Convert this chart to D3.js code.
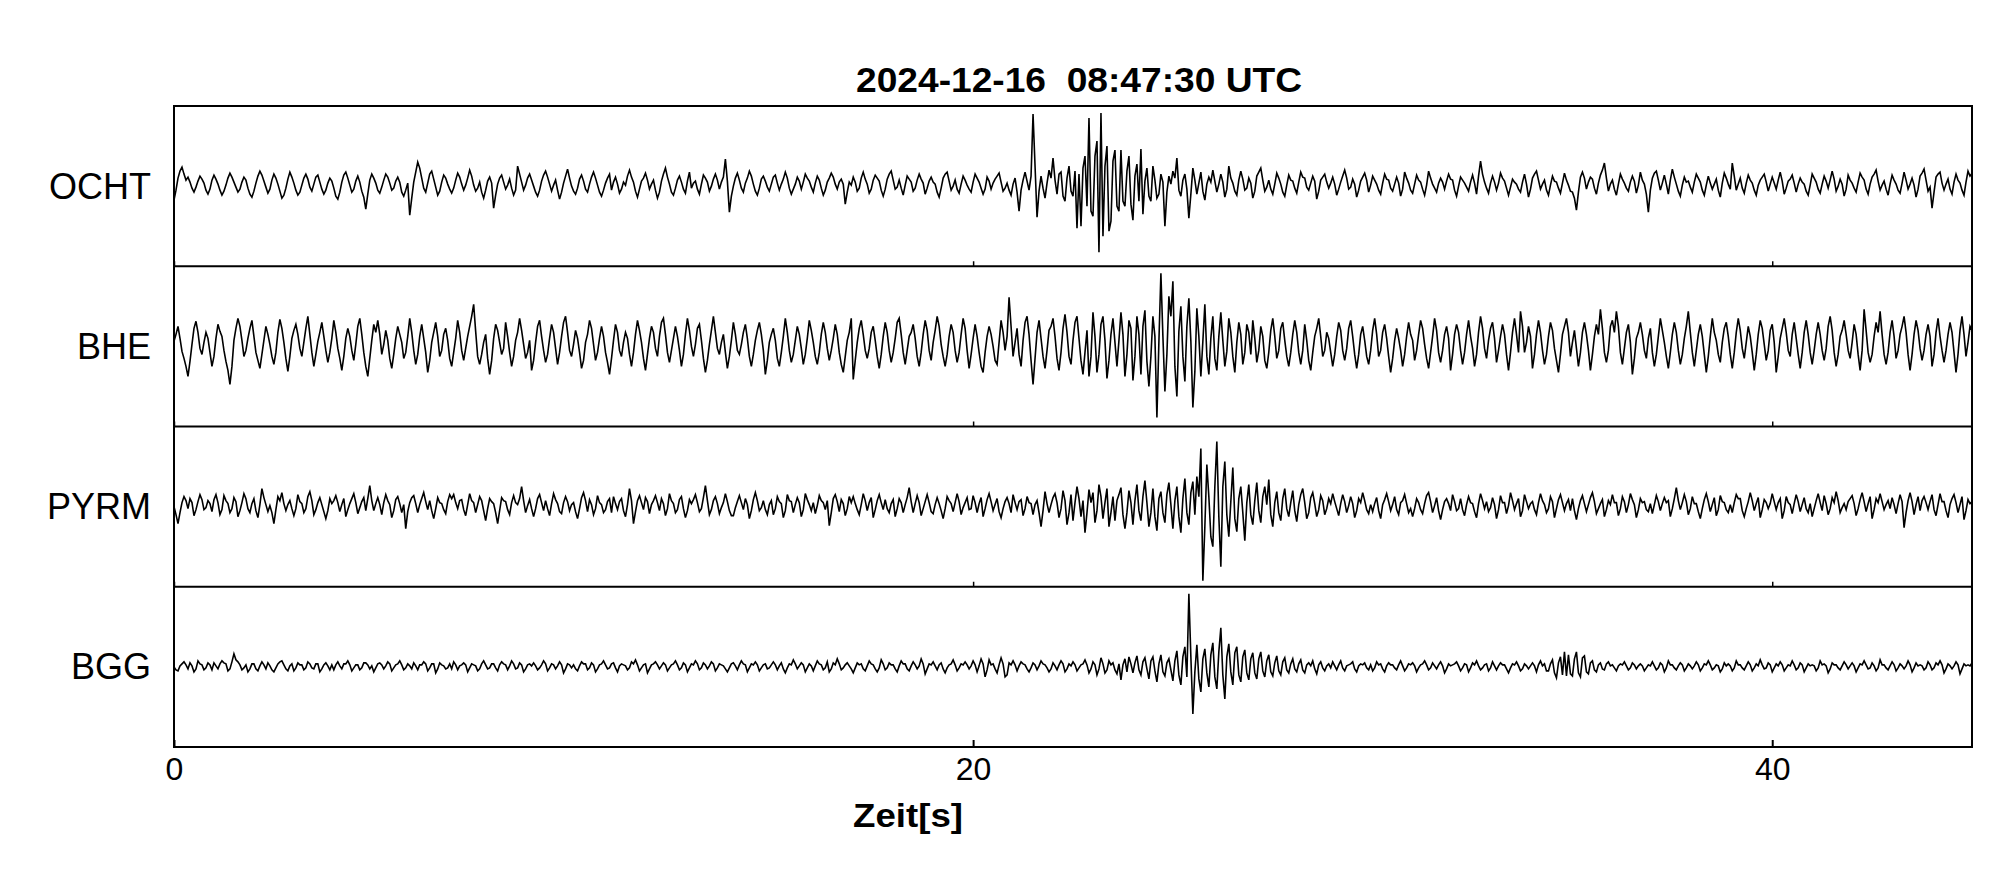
<!DOCTYPE html>
<html><head><meta charset="utf-8">
<script src="https://cdn.jsdelivr.net/npm/d3@7"></script>
<style>body{margin:0;background:#fff}svg{display:block}text{font-family:"Liberation Sans",Arial,sans-serif;fill:#000}</style>
</head><body>
<svg id="c" width="2005" height="880"></svg>
<script>
const title = "2024-12-16  08:47:30 UTC";
const xLabel = "Zeit[s]";
const stations = ["OCHT", "BHE", "PYRM", "BGG"];
const xTicks = [0, 20, 40];
const sampleInterval = 0.05; // seconds (20 samples per second)
const timeSpan = [0, 45];

const ocht = [
-14,-4,8,15,19,12,6,9,4,-2,-6,-1,5,10,7,3,-4,-8,-3,6,
11,7,2,-4,-9,-5,1,8,13,9,4,-1,-6,-3,4,9,6,-2,-8,-11,
-5,3,10,15,11,5,-1,-7,-3,6,12,8,2,-5,-12,-9,-2,7,14,9,
3,-4,-9,-6,1,8,12,7,-1,-5,2,9,11,4,-3,-8,-4,3,8,5,
-2,-10,-13,-6,4,11,14,8,1,-6,-3,5,10,4,-5,-11,-23,-8,6,12,
8,3,-4,-7,-1,6,12,9,3,-4,-2,5,9,4,-6,-10,-4,3,-29,-12,
4,14,24,18,8,-2,-6,3,12,15,7,-1,-9,-5,4,11,8,2,-3,-7,
-2,6,13,9,2,-4,1,8,16,10,1,-5,-2,4,-6,-12,-4,5,9,3,
-22,-9,2,8,11,4,-3,1,7,-2,-9,-4,20,12,4,-4,1,8,12,6,
0,-6,-10,-4,5,11,15,9,2,-5,1,6,-4,-13,-6,3,10,17,8,0,
-5,-8,-2,7,11,5,-3,-6,2,9,14,8,1,-6,-10,-4,3,8,12,-4,
4,9,2,-7,-3,4,1,10,16,9,4,-5,-11,-3,5,8,13,6,-3,2,
6,-4,-12,-6,5,12,18,9,2,-6,-9,-2,6,10,4,-3,-7,5,14,-2,
3,5,-3,-8,2,11,8,4,-5,0,7,12,6,-3,4,9,27,5,-26,-10,
0,8,13,6,-2,-6,3,8,15,10,2,-5,-9,-2,7,10,5,-1,-5,2,
9,11,3,-4,2,7,14,8,-2,-8,-3,2,9,5,-3,4,12,8,5,-1,
-6,3,10,6,-2,-9,-4,4,8,13,9,2,-3,4,7,2,-18,-6,4,1,
9,4,-5,-2,8,14,7,2,-7,-3,6,11,8,5,-4,-10,-3,7,12,15,
6,-3,-1,6,-2,-9,1,10,7,4,-5,-2,6,12,7,3,-8,-2,5,9,
4,2,-6,-11,-2,8,12,14,5,-4,0,6,-3,-7,2,10,6,1,-3,-6,
4,12,8,4,-2,-8,-3,9,5,-3,3,7,10,13,4,-5,-2,3,-4,-9,
2,8,-6,-25,-4,6,14,5,-4,10,72,20,-31,-5,10,-2,-12,3,16,8,
28,6,-8,12,14,-10,-15,8,20,-5,-10,15,-42,12,-40,18,30,-20,68,-25,
-30,30,45,-66,73,-50,20,40,-45,-35,25,36,-20,-25,36,-15,-20,15,30,-18,
-34,10,22,-15,37,-28,5,18,-10,-15,20,6,-12,-8,12,4,-40,-6,10,2,
15,8,28,-4,-10,6,12,-3,-32,-8,18,6,-8,3,14,-5,-14,2,9,4,
16,5,-6,2,12,4,-11,-3,20,8,3,-5,-9,6,15,7,-4,-2,8,3,
-12,-5,10,14,18,6,-5,-1,6,-3,-8,2,13,8,2,-6,-10,1,11,6,
5,-2,-7,4,14,9,8,-1,-4,3,10,5,-13,-5,6,9,12,4,-2,3,
9,2,-9,-3,4,10,16,8,-3,-1,7,2,-11,-4,5,9,13,6,-6,1,
10,6,2,-4,-8,3,12,7,6,-2,-5,2,9,3,-10,-3,14,8,3,-4,
-7,2,11,6,4,-3,-9,1,15,8,2,-2,-6,3,8,4,-3,5,12,7,
6,-4,-10,0,9,6,3,-1,-5,4,11,3,-8,10,25,12,4,-2,-7,3,
10,4,-4,3,13,8,5,-2,-9,-1,7,4,2,-3,-6,4,12,2,-11,-3,
8,12,15,6,-3,2,6,-4,-9,1,10,5,4,-2,-7,3,13,6,1,-5,
-6,-12,-24,-6,9,14,8,-3,4,9,7,-2,-8,3,11,16,23,8,-5,2,
6,-3,-9,2,12,7,3,-2,-5,4,10,5,-7,1,14,6,2,-8,-26,-4,
8,13,15,6,-4,3,11,2,-8,6,17,9,2,-5,-10,1,9,4,5,-1,
-6,4,12,8,4,-4,-9,1,10,3,-3,2,7,-4,-11,3,13,8,2,-3,
23,10,-4,2,8,-2,-7,3,11,6,3,-4,-9,1,6,9,12,4,-5,2,
9,3,-3,6,14,5,-8,-2,5,7,11,3,-6,2,8,4,2,-5,-9,1,
12,8,4,-3,-7,2,10,5,-2,6,15,7,-5,0,7,2,-10,-3,11,6,
3,-2,-6,4,13,9,6,-3,-8,2,9,12,16,5,-4,1,5,-3,-9,2,
11,6,2,-4,-7,3,14,6,-3,2,8,1,-11,-3,10,13,17,6,-5,-1,
-22,-6,9,12,14,3,-4,2,7,-3,-8,4,12,6,3,-4,-9,4,15,10,
13];

const bhe = [
5,12,20,8,-5,-12,-20,-30,-15,2,18,25,14,-2,-8,4,14,8,-6,-20,
-10,8,22,15,10,-4,-15,-24,-38,-20,6,18,28,20,6,-10,-4,8,18,26,
10,-6,-14,-22,-8,6,20,12,2,-10,-18,-6,14,27,18,4,-12,-25,-10,8,
16,22,12,-2,-10,4,18,30,12,-6,-20,-8,5,14,24,10,-4,-16,-6,8,
26,14,-2,-12,-24,-10,8,18,10,-4,-14,2,20,28,12,-6,-20,-30,-12,6,
22,14,26,12,-8,2,16,6,-12,-22,-8,8,20,12,4,-12,-6,10,28,14,
-4,-18,-8,10,22,8,-6,-26,-14,4,14,24,10,-10,-4,12,18,6,-12,-20,
-6,8,26,14,-4,-14,-2,10,20,30,42,15,-10,-18,-8,4,12,-12,-28,-14,
8,22,16,4,-8,-2,24,10,-6,-20,-10,6,14,28,16,2,-12,-6,6,-24,
-14,4,20,26,10,-4,-16,-8,8,22,14,-2,-18,-6,10,24,30,14,-4,-10,
2,16,8,-6,-22,-14,4,12,26,18,2,-14,-6,8,20,10,-6,-16,-28,-12,
6,22,14,-4,-10,4,14,8,-8,-20,-6,12,26,16,4,-12,-24,-8,8,20,
14,-2,-10,10,24,28,12,-6,-16,-4,8,20,10,-4,-20,-8,12,28,16,0,
-10,2,18,22,6,-12,-26,-14,2,16,30,14,-2,-8,4,12,-6,-22,-10,6,
24,12,-4,-8,2,14,22,8,-10,-20,-8,6,16,24,12,-4,-28,-14,4,12,
18,6,-12,-20,-6,10,28,14,-4,-16,-8,6,20,12,-2,-18,-8,8,26,16,
4,-10,-18,-6,12,24,14,-2,-14,-4,8,22,12,-6,-18,-26,-10,6,14,28,
-33,-14,4,18,26,12,-4,-12,-2,14,20,6,-10,-22,-8,10,24,14,-4,-16,
-6,8,24,28,12,-6,-18,-4,10,14,22,8,-10,-20,-6,12,26,16,-4,-14,
4,16,30,20,2,-10,-20,-8,10,22,14,-4,-16,-6,12,28,18,-4,-22,-8,
8,22,10,-6,-20,-26,-6,10,20,12,0,-14,-18,4,26,14,-4,10,49,20,
-10,4,18,-8,-20,6,24,30,12,-14,-38,-12,14,26,8,-10,-22,-4,16,20,
28,10,-12,-24,-6,18,32,14,-10,-18,6,24,30,8,-14,-28,-6,16,-30,-10,
34,10,-26,-8,22,30,6,-32,-14,12,28,4,-20,6,34,12,-30,-8,26,18,
-34,-10,30,12,-28,20,36,-15,-40,-10,30,10,-71,5,73,10,-45,-8,50,30,
65,-20,-50,15,40,-10,-35,20,48,5,-61,-25,38,10,-30,5,42,-10,-28,8,
30,-12,-24,10,34,6,-20,-5,28,14,-10,-26,4,24,12,-18,-6,22,14,-8,
26,8,-16,-4,20,10,-14,-22,-6,16,28,10,-12,-4,18,24,6,-10,-20,-6,
12,26,14,-6,-18,-4,22,6,-14,-24,-6,10,18,28,10,-10,-4,14,8,-6,
-20,-8,10,24,16,-4,-14,-2,18,26,10,-8,-22,-8,12,20,6,-10,-18,-4,
16,28,12,-10,-4,14,22,8,-10,-26,-12,6,18,8,-4,-20,-8,10,24,12,
6,-14,-4,12,26,18,2,-12,-22,-6,10,28,16,-6,-16,-4,12,20,8,-24,
-8,12,22,14,-4,-18,-6,12,26,10,-2,-20,-8,14,30,18,-2,-12,6,18,
24,8,-16,-4,10,22,12,-8,-24,-6,14,28,12,-6,35,20,-6,4,20,10,
-22,-8,12,26,14,-4,-18,-8,10,24,16,-2,-14,-26,-8,12,20,28,14,-10,
4,16,-2,-20,-6,14,24,12,-4,-24,-8,10,22,12,37,18,-6,-16,-4,20,
26,14,35,20,-6,-18,-2,14,22,4,-28,-12,8,14,24,12,-4,-12,8,18,
-6,-20,-8,10,28,16,4,-10,-22,-6,12,24,14,-4,-18,-8,8,20,35,14,
-6,-20,-4,12,22,10,-8,-26,-10,10,28,14,6,-8,-16,4,18,24,10,-8,
-22,-6,14,28,16,-2,-12,4,20,10,-6,-24,-8,12,26,18,2,-14,-4,16,
22,4,-26,-10,8,18,28,14,-4,-10,12,24,8,-8,-22,-6,14,26,12,-6,
-18,-4,12,24,12,-4,-14,-2,20,30,16,-6,-20,-8,10,16,26,12,-4,-12,
4,22,12,-8,-24,-4,37,16,-6,-16,-8,10,24,14,35,12,-8,-18,-6,14,
26,10,-12,-4,12,20,30,14,-8,-24,-8,12,26,16,-2,-14,-4,12,22,10,
-20,-8,14,28,10,-4,-16,-4,12,24,14,-6,-26,-8,16,30,12,-10,4,20,
16];

const pyrm = [
0,-8,-17,-6,4,10,6,-2,8,4,-9,-3,5,12,7,-3,-1,6,3,-5,
7,12,4,-8,-3,11,6,3,-6,-2,9,5,-10,-4,4,13,8,-2,-6,3,
8,-4,-11,2,18,9,2,-5,1,-6,-17,-3,10,6,14,3,-4,2,6,-2,
-9,-2,12,5,3,-6,-2,10,15,6,-8,-3,4,9,2,-5,-12,-4,8,3,
6,11,4,-5,2,8,-10,-3,3,8,13,4,-7,-1,5,9,-4,8,21,6,
-4,3,9,2,-8,4,12,6,2,-11,-4,7,10,3,-6,2,-22,-5,4,9,
11,3,-6,2,8,14,5,-3,6,-4,-12,-2,9,4,3,-3,-7,5,12,8,
12,4,-2,6,7,-3,-9,2,13,6,4,-6,2,10,6,-4,-14,-2,8,5,
3,-6,-17,-4,9,6,5,-3,-8,4,11,4,2,8,20,6,-6,1,7,-2,
-10,-2,8,12,4,-4,6,-2,-9,3,13,7,3,-5,-7,4,10,5,-4,2,
4,-5,-12,-2,9,14,6,-5,7,2,-8,-2,11,4,2,-6,-3,5,8,-6,
10,3,-3,5,8,-4,-10,2,18,6,-17,-5,6,11,4,-3,9,5,-7,2,
6,11,4,-4,8,3,-9,-2,13,6,3,-6,-3,7,10,-2,-11,-4,7,3,
7,12,4,-5,-2,9,21,6,-8,-3,6,10,3,-7,-1,4,13,5,-4,-9,
-9,-1,5,11,4,-3,8,2,-12,-4,7,14,6,-4,-1,6,-3,-8,2,6,
-8,-2,10,5,3,-11,-4,12,6,5,-6,2,9,4,-10,-3,13,7,2,-4,
4,-7,1,11,6,4,-3,6,-19,-6,8,12,5,-5,7,3,-9,-2,10,4,
10,3,-3,-8,2,13,6,-4,4,9,-11,-3,6,12,4,-3,7,-2,-6,3,
7,-10,-2,8,4,-6,2,9,19,5,-6,3,11,4,-9,-2,5,12,4,-5,
-7,2,9,3,-4,-12,-2,10,6,3,-5,4,13,5,-8,-1,4,9,-3,-2,
11,4,-6,3,9,-10,-2,7,13,5,-4,2,8,-5,-11,-2,5,9,3,-6,
12,4,-3,5,7,-9,-2,10,4,3,-8,2,6,-6,-20,-4,15,3,-6,2,
9,13,4,-11,-2,16,6,-18,-6,12,-14,4,20,8,-10,6,-26,-6,17,4,
14,-16,-4,22,10,-12,4,18,-20,-6,10,-14,6,12,19,-8,-22,-6,16,4,
-18,6,22,-4,-14,10,26,4,-20,-6,18,-10,-24,8,15,-6,-16,12,24,2,
-22,6,20,-10,-26,8,28,-6,-18,14,25,-8,30,10,58,-74,-20,42,10,-30,
-40,20,65,-10,-60,20,45,-8,-30,5,39,-12,-25,8,20,-6,-34,4,22,-8,
-18,6,24,-4,-16,10,20,2,27,-8,-20,4,15,-6,-14,8,18,-2,-10,4,
16,-4,-15,2,12,18,4,-12,-6,9,14,3,-10,-3,11,6,-8,-2,8,3,
13,5,-2,-9,3,12,5,-6,1,10,3,-11,-4,8,4,14,6,-3,-7,2,
-5,3,9,-4,-12,2,7,13,5,-4,2,10,-3,-8,4,6,12,3,-6,-2,
-10,-2,8,4,-3,-7,3,11,14,5,-6,1,9,-4,-13,-3,5,8,3,-4,
12,5,-4,-2,8,-3,-9,2,10,4,3,-5,-11,3,13,6,-2,5,-5,-1,
9,2,-12,-3,11,4,4,-7,1,14,6,-3,3,8,-10,-4,12,5,-2,3,
5,-3,-8,4,13,6,2,-6,-2,10,5,-11,-2,7,12,4,-4,3,7,-4,
8,-4,-13,-2,6,11,3,-5,2,9,14,5,-7,-2,3,7,-10,-3,6,2,
12,4,4,-9,-2,10,5,-6,2,13,7,2,-11,-3,8,4,5,-3,-5,3,
-7,2,11,5,-4,3,9,4,6,-10,-2,8,19,6,-3,4,12,5,-8,-2,
10,3,3,-5,-12,-2,7,13,5,-5,2,9,-9,-3,11,5,4,-3,-6,2,
-6,4,12,8,8,-4,-10,-2,5,14,6,-4,3,9,-11,-3,7,4,-2,3,
13,5,-3,4,8,-12,-4,10,4,2,-7,3,12,5,-5,2,9,-2,-6,3,
-10,-2,6,13,4,-4,11,3,-8,-2,9,4,15,6,-6,-1,3,-3,5,8,
11,3,-9,-2,7,14,5,-5,3,10,-12,-3,8,4,13,5,-3,2,6,-2,
9,2,-7,3,12,5,-21,-6,6,14,5,-8,2,10,-4,6,10,4,-3,5,
12,-3,-9,2,13,5,5,-4,-11,2,8,12,4,-6,2,10,-13,-4,7,3,
5];

const bgg = [
0,-3,-4,1,3,5,2,-2,4,1,-5,-2,6,3,2,-3,-1,4,2,-3,
4,1,-2,3,6,4,3,-4,-2,5,13,7,5,2,-3,-1,2,-5,-2,3,
3,-2,-4,1,5,2,-2,4,1,-3,-5,-1,3,5,6,2,-2,-4,1,3,
-4,-1,4,2,2,-3,-1,5,3,-1,-2,3,3,-5,-2,2,4,1,-3,2,
-3,2,5,1,-2,3,3,6,2,-4,-1,2,2,-3,-1,4,4,2,-2,1,
-5,-1,3,4,2,-2,1,5,3,-4,-1,2,3,6,2,-3,-1,3,1,-2,
4,1,-3,2,2,5,3,-4,-1,3,3,-6,-2,4,2,1,-2,-1,3,-2,
5,2,-3,1,2,4,2,-5,-1,3,2,1,-4,-2,3,6,2,-2,-1,3,
3,-1,-4,2,5,3,2,-3,1,6,3,-2,-1,4,2,-5,-2,2,3,1,
4,1,-3,-1,2,6,3,-4,-1,3,2,-2,1,5,2,-6,-2,3,2,-1,
2,-2,-4,1,5,3,3,-3,-1,4,2,-5,-2,2,3,6,2,-2,-1,3,
4,-1,-5,1,3,2,1,-3,-1,5,3,7,2,-4,-1,2,3,-6,-2,2,
3,5,2,-2,1,4,2,-4,-1,2,3,6,2,-3,-1,4,2,-5,-1,3,
2,6,3,-3,-1,4,2,-2,1,5,3,-4,-1,3,2,1,-2,-5,-1,3,
4,1,-3,2,6,3,2,-5,-1,3,2,5,2,-4,-1,2,3,-2,-1,2,
5,2,-3,1,4,-2,-6,-1,3,2,7,3,-2,1,4,2,-5,-1,3,1,
-4,1,6,3,2,-3,-1,5,-5,-2,4,2,8,3,-3,-1,2,4,1,-2,
-6,-1,4,2,3,-2,-4,1,6,3,2,-2,-5,-1,7,3,-3,-1,4,2,
2,-2,-5,1,6,3,3,-2,-4,1,5,2,-2,1,8,3,-7,-2,3,2,
5,1,-3,2,4,-2,-6,-1,2,3,7,2,-4,-1,3,2,5,2,-2,1,
6,2,-5,1,8,3,-10,-3,7,2,3,-2,-6,2,9,3,-10,-8,4,2,
6,2,-4,1,5,3,2,-2,-5,-1,4,2,-3,1,6,3,2,-1,-5,-2,
4,1,-3,2,6,3,-5,-2,3,1,5,2,-4,-1,2,3,7,2,-6,-2,
5,2,-8,-2,9,3,-6,-3,6,2,4,-3,-7,3,-13,2,8,-5,10,3,
-6,4,11,-3,-8,5,9,-2,-12,6,10,-4,-15,3,12,-5,-9,4,8,-3,
-14,6,16,-8,-18,10,20,-10,73,10,-47,-5,22,-12,-25,8,18,-6,-20,12,
24,-10,-22,15,39,-8,-32,10,23,-5,-18,14,20,-8,-15,10,17,-6,-13,8,
14,-6,-12,8,15,-4,-10,6,12,-5,-9,4,11,-4,-8,5,9,-3,-6,3,
8,-2,-5,3,7,-3,-6,2,4,1,6,-2,-7,2,5,-1,-4,1,3,-1,
5,1,-3,2,6,-1,-4,1,2,3,5,-2,-5,1,3,2,4,-1,-3,2,
-4,-1,5,2,3,-2,-5,1,4,2,2,-1,-3,2,6,1,-4,-1,3,2,
4,1,-5,-1,2,3,6,2,-3,-1,4,1,-2,2,5,1,-6,-2,3,1,
2,3,5,1,-4,-1,3,2,-5,-1,4,2,6,1,-3,-1,2,3,-4,-1,
5,1,-3,1,4,2,2,-2,-6,-1,3,2,5,1,-4,-2,3,1,-2,1,
4,1,-5,2,6,1,3,-4,-4,3,7,-6,-11,4,10,-8,15,-9,12,-7,
-9,8,15,-6,-10,9,11,-5,-7,4,6,-3,-5,2,4,-2,-3,3,5,1,
2,-1,-4,1,3,2,5,1,-3,-1,4,2,-2,1,3,1,-4,-1,2,1,
5,1,-3,-1,4,2,-5,-1,6,2,2,-1,-3,1,4,2,-4,-1,3,1,
-2,1,5,2,-4,-1,3,2,6,2,-3,-1,2,1,-5,-2,4,1,3,1,
-4,-1,6,2,2,-1,-3,1,5,2,-4,-1,3,1,7,2,-2,-1,4,2,
-5,-1,3,1,5,2,-4,-1,2,1,6,2,-3,-1,4,2,-5,-1,3,1,
2,1,-4,-1,6,2,3,1,-6,-2,4,2,2,-1,-3,1,5,2,-2,1,
4,1,-5,-1,3,2,6,2,-2,-1,4,1,-4,-1,7,2,2,-1,-3,1,
5,2,-4,-1,3,1,-2,1,6,2,-5,-1,4,1,2,1,-3,-1,5,2,
-3,-1,4,2,6,2,-6,-2,3,1,-2,1,5,2,-7,-2,3,1,2,1,
4];

const traces = [ocht, bhe, pyrm, bgg];

const svg = d3.select("#c");
const plotL = 174, plotR = 1972, plotT = 106, plotB = 747;
const panelH = (plotB - plotT) / stations.length;

const x = d3.scaleLinear().domain(timeSpan).range([plotL, plotR]);
const yBand = d3.scaleBand().domain(stations).range([plotT, plotB]).padding(0);
const yAmp = d3.scaleLinear().domain([-80, 80]).range([panelH, 0]);

svg.append("defs").append("clipPath").attr("id", "pc")
  .append("rect").attr("x", plotL).attr("y", 0).attr("width", plotR - plotL).attr("height", panelH);

stations.forEach((s, i) => {
  const g = svg.append("g").attr("transform", `translate(0,${yBand(s)})`);
  const line = d3.line().x((d, j) => x(j * sampleInterval)).y(d => yAmp(d));
  g.append("path").datum(traces[i]).attr("d", line).attr("clip-path", "url(#pc)")
    .attr("fill", "none").attr("stroke", "#000").attr("stroke-width", 1.6).attr("stroke-linejoin", "miter");
  g.append("text").attr("x", 151).attr("y", panelH / 2).attr("text-anchor", "end")
    .attr("dominant-baseline", "central").style("font-size", "36px").text(s);
  if (i < stations.length - 1) {
    g.append("g").attr("transform", `translate(0,${panelH})`)
      .call(d3.axisBottom(x).tickValues(xTicks).tickSize(-5).tickFormat(""))
      .call(a => a.select(".domain").remove())
      .call(a => a.selectAll("line").attr("stroke", "#000").attr("stroke-width", 1.5));
  }
});

stations.slice(1).forEach(s => {
  svg.append("line").attr("x1", plotL).attr("x2", plotR).attr("y1", yBand(s)).attr("y2", yBand(s))
    .attr("stroke", "#000").attr("stroke-width", 2);
});

svg.append("g").attr("transform", `translate(0,${plotB})`)
  .call(d3.axisBottom(x).tickValues(xTicks).tickSize(-7).tickPadding(10).tickFormat(d3.format("d")))
  .call(a => a.select(".domain").remove())
  .call(a => a.selectAll("line").attr("stroke", "#000").attr("stroke-width", 2))
  .call(a => a.selectAll("text").style("font-size", "32px").style("font-family", "Liberation Sans, Arial, sans-serif").attr("fill", "#000"));

svg.append("rect").attr("x", plotL).attr("y", plotT).attr("width", plotR - plotL).attr("height", plotB - plotT)
  .attr("fill", "none").attr("stroke", "#000").attr("stroke-width", 2);

svg.append("text").attr("x", 1079).attr("y", 92).attr("text-anchor", "middle")
  .style("font-size", "35px").style("font-weight", "bold").style("white-space", "pre")
  .attr("textLength", 446).attr("lengthAdjust", "spacingAndGlyphs").text(title);

svg.append("text").attr("x", 908).attr("y", 827).attr("text-anchor", "middle")
  .style("font-size", "34px").style("font-weight", "bold")
  .attr("textLength", 110).attr("lengthAdjust", "spacingAndGlyphs").text(xLabel);
</script>
</body></html>
